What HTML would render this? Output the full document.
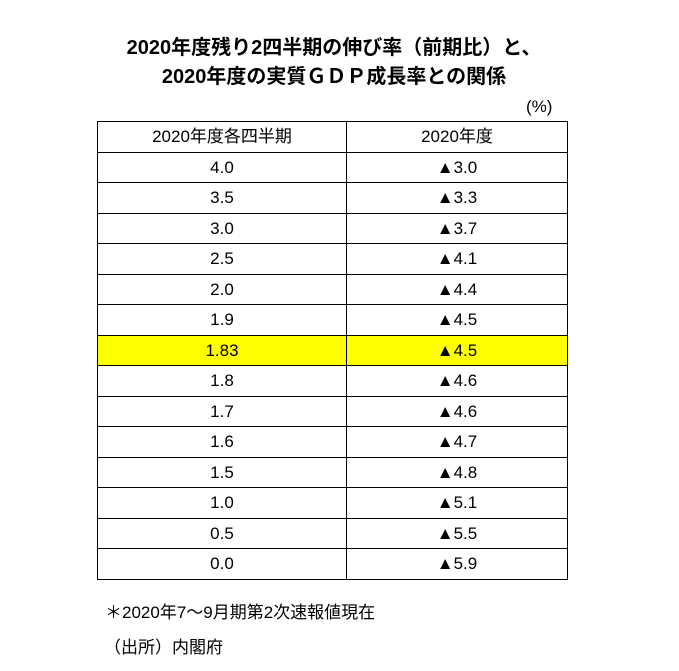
<!DOCTYPE html>
<html><head><meta charset="utf-8"><style>
body{margin:0;width:679px;height:671px;background:#fff;font-family:"Liberation Sans","Noto Sans CJK JP",sans-serif;color:#000;position:relative;overflow:hidden}
.t{position:absolute;left:0;width:664px;text-align:center;font-weight:bold;font-size:20px;padding-left:2px}
table{position:absolute;left:97px;top:121px;border-collapse:collapse}
td{border:1.5px solid #000;height:29.5px;padding:0;text-align:center;font-size:17px;line-height:29px}
.y td{background:#ffff00}
.n{position:absolute;font-size:17px}
</style></head><body>
<div class="t" style="top:31px">2020年度残り2四半期の伸び率（前期比）と、</div>
<div class="t" style="top:60px">2020年度の実質ＧＤＰ成長率との関係</div>
<div class="n" style="left:526px;top:97px">(%)</div>
<table>
<tr><td style="width:248px">2020年度各四半期</td><td style="width:220px">2020年度</td></tr>
<tr><td>4.0</td><td>▲3.0</td></tr>
<tr><td>3.5</td><td>▲3.3</td></tr>
<tr><td>3.0</td><td>▲3.7</td></tr>
<tr><td>2.5</td><td>▲4.1</td></tr>
<tr><td>2.0</td><td>▲4.4</td></tr>
<tr><td>1.9</td><td>▲4.5</td></tr>
<tr class="y"><td>1.83</td><td>▲4.5</td></tr>
<tr><td>1.8</td><td>▲4.6</td></tr>
<tr><td>1.7</td><td>▲4.6</td></tr>
<tr><td>1.6</td><td>▲4.7</td></tr>
<tr><td>1.5</td><td>▲4.8</td></tr>
<tr><td>1.0</td><td>▲5.1</td></tr>
<tr><td>0.5</td><td>▲5.5</td></tr>
<tr><td>0.0</td><td>▲5.9</td></tr>
</table>
<div class="n" style="left:105px;top:598px">＊2020年7～9月期第2次速報値現在</div>
<div class="n" style="left:104px;top:633px">（出所）内閣府</div>
</body></html>
